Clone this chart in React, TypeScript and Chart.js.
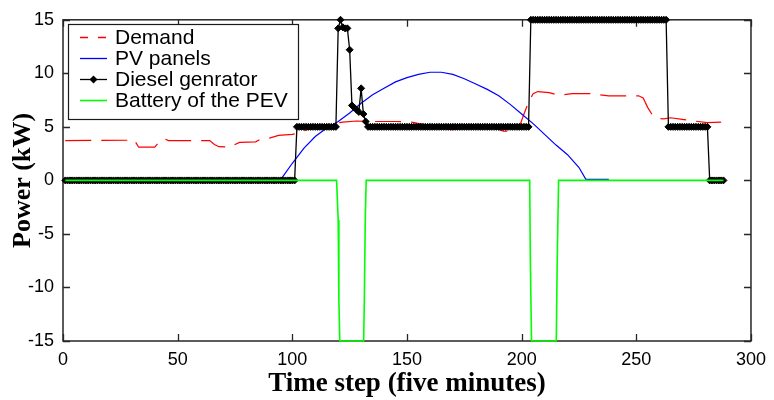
import React, { useEffect, useRef } from 'react';
import { Chart, registerables } from 'chart.js';

Chart.register(...registerables);

// ---- data ----
const xTicks = [0, 50, 100, 150, 200, 250, 300];
const yTicks = [-15, -10, -5, 0, 5, 10, 15];
const seriesLabels = ['Demand', 'PV panels', 'Diesel genrator', 'Battery of the PEV'];
const seriesColors = ['#ff0000', '#0000ff', '#000000', '#00ff00'];

const demandT = [1, 30, 31, 33, 40, 42, 44, 46, 64, 66, 68, 73, 75, 77, 84, 86, 90, 94, 100, 102,
  108, 112, 118, 122, 128, 135, 145, 152, 158, 165, 170, 176, 182, 188, 192, 197, 199, 201, 203, 205,
  207, 212, 216, 222, 230, 238, 251, 253, 255, 257, 259, 262, 265, 270, 275, 281, 287];
const demandKW = [3.72, 3.75, 3.8, 3.1, 3.1, 3.6, 3.9, 3.72, 3.72, 3.35, 3.15, 3.1, 3.35, 3.55, 3.6, 3.85, 3.95, 4.2, 4.3, 4.4,
  4.85, 5.1, 5.3, 5.45, 5.55, 5.5, 5.5, 5.45, 5.2, 4.8, 4.75, 5.0, 5.1, 4.9, 4.6, 4.6, 5.0, 6.2, 7.3, 8.1,
  8.3, 8.2, 7.95, 8.1, 8.1, 7.9, 7.9, 7.7, 6.8, 6.1, 5.8, 5.75, 5.85, 5.7, 5.55, 5.4, 5.45];

const pvT = [95, 96, 100, 105, 110, 115, 120, 125, 130, 135, 140, 145, 150, 155, 160, 165, 170, 175,
  180, 185, 190, 195, 200, 205, 210, 215, 220, 225, 228, 238];
const pvKW = [0.1, 0.4, 1.6, 3.0, 4.1, 4.9, 5.5, 6.3, 7.2, 8.0, 8.6, 9.2, 9.6, 9.9, 10.1, 10.1, 9.9, 9.5,
  9.0, 8.5, 7.9, 7.1, 6.2, 5.3, 4.3, 3.3, 2.4, 1.2, 0.1, 0.1];

// diesel generator output per time step, as runs: [first step, last step, kW]
const dieselRuns: [number, number, number][] = [
  [1, 101, 0], [102, 119, 5], [120, 120, 14.2], [121, 121, 15], [122, 122, 14.3], [123, 124, 14.2],
  [125, 125, 12.2], [126, 126, 7.0], [127, 127, 6.8], [128, 128, 6.6], [129, 129, 6.4], [130, 130, 8.6],
  [131, 131, 6.2], [132, 132, 5.5], [133, 203, 5], [204, 263, 15], [264, 281, 5], [282, 288, 0],
];

const batteryT = [1, 119.3, 120, 120.3, 120.7, 131.1, 131.4, 131.8, 132.2, 203.5, 203.8, 204.3, 215.1, 215.5, 216.1, 288];
const batteryKW = [0, 0, -3.7, -11.2, -15, -15, -11.2, -3.7, 0, 0, -7.6, -15, -15, -7.6, 0, 0];

const tickFont = { family: '"Liberation Sans", Arial, sans-serif', size: 18 };
const titleFontFamily = '"Liberation Serif", "Times New Roman", serif';

const framePlugin = {
  id: 'frame',
  beforeDatasetsDraw(chart: any) {
    const { ctx, chartArea: a, scales } = chart;
    ctx.save();
    ctx.strokeStyle = '#262626';
    ctx.lineWidth = 1.5;
    ctx.strokeRect(a.left, a.top, a.right - a.left, a.bottom - a.top);
    ctx.lineWidth = 1.3;
    ctx.beginPath();
    for (const v of xTicks) {
      const x = Math.round(scales.x.getPixelForValue(v)) + 0.5;
      ctx.moveTo(x, a.bottom); ctx.lineTo(x, a.bottom - 7);
      ctx.moveTo(x, a.top); ctx.lineTo(x, a.top + 7);
    }
    for (const v of yTicks) {
      const y = Math.round(scales.y.getPixelForValue(v)) + 0.5;
      ctx.moveTo(a.left, y); ctx.lineTo(a.left + 7, y);
      ctx.moveTo(a.right, y); ctx.lineTo(a.right - 7, y);
    }
    ctx.stroke();
    ctx.restore();
  },
};

const legendDash = [[8, 10], [], [], []];

const legendPlugin = {
  id: 'boxLegend',
  afterDatasetsDraw(chart: any) {
    const { ctx } = chart;
    const bx = 68.5, by = 24.5, bw = 230, bh = 95;
    ctx.save();
    ctx.fillStyle = '#ffffff';
    ctx.fillRect(bx, by, bw, bh);
    ctx.strokeStyle = '#1a1a1a';
    ctx.lineWidth = 1.2;
    ctx.strokeRect(bx, by, bw, bh);
    const rowY = [37.5, 58.5, 79.5, 100.5];
    const x0 = 80, x1 = 107;
    ctx.font = '21px "Liberation Sans", Arial, sans-serif';
    ctx.textBaseline = 'middle';
    ctx.textAlign = 'left';
    seriesLabels.forEach((label, i) => {
      const y = rowY[i];
      ctx.save();
      ctx.strokeStyle = seriesColors[i];
      ctx.lineWidth = i === 3 ? 1.6 : 1.3;
      ctx.setLineDash(legendDash[i]);
      ctx.beginPath();
      ctx.moveTo(x0, y);
      ctx.lineTo(x1, y);
      ctx.stroke();
      ctx.restore();
      if (i === 2) {
        ctx.save();
        ctx.fillStyle = '#000';
        ctx.beginPath();
        const r = 4, cx = (x0 + x1) / 2;
        ctx.moveTo(cx, y - r); ctx.lineTo(cx + r, y); ctx.lineTo(cx, y + r); ctx.lineTo(cx - r, y);
        ctx.closePath();
        ctx.fill();
        ctx.restore();
      }
      ctx.fillStyle = '#000';
      ctx.fillText(label, 115, y + 1);
    });
    ctx.restore();
  },
};

function toPoints(t: number[], v: number[]) {
  return t.map((x, i) => ({ x, y: v[i] }));
}

function expandRuns(runs: [number, number, number][]) {
  const pts: { x: number; y: number }[] = [];
  for (const [a, b, v] of runs) for (let s = a; s <= b; s++) pts.push({ x: s, y: v });
  return pts;
}

export default function App() {
  const ref = useRef<HTMLCanvasElement | null>(null);
  useEffect(() => {
    document.body.style.margin = '0';
    const canvas = ref.current;
    if (!canvas) return;
    const chart = new Chart(canvas, {
      type: 'line',
      data: {
        datasets: [
          {
            label: seriesLabels[0], data: toPoints(demandT, demandKW), borderColor: seriesColors[0],
            borderWidth: 1.2, borderDash: [26, 10], pointRadius: 0, order: 4, clip: false,
          },
          {
            label: seriesLabels[1], data: toPoints(pvT, pvKW), borderColor: seriesColors[1],
            borderWidth: 1.2, pointRadius: 0, order: 3, clip: false,
          },
          {
            label: seriesLabels[2], data: expandRuns(dieselRuns), borderColor: seriesColors[2],
            borderWidth: 1.3, pointRadius: 3.5, pointStyle: 'rectRot', pointBackgroundColor: '#000',
            pointBorderColor: '#000', pointBorderWidth: 1, order: 2, clip: false,
          },
          {
            label: seriesLabels[3], data: toPoints(batteryT, batteryKW), borderColor: seriesColors[3],
            borderWidth: 1.6, pointRadius: 0, order: 1, clip: false,
          },
        ] as any,
      },
      options: {
        animation: false,
        responsive: false,
        events: [],
        layout: { padding: { top: 19, right: 16, left: 0, bottom: 0 } },
        elements: { line: { tension: 0 } },
        plugins: { legend: { display: false }, tooltip: { enabled: false } },
        scales: {
          x: {
            type: 'linear', min: 0, max: 300,
            afterBuildTicks: (s: any) => { s.ticks = xTicks.map((value) => ({ value })); },
            grid: { display: false, drawTicks: false },
            border: { display: false },
            ticks: { font: tickFont, color: '#000', padding: 8, maxRotation: 0, autoSkip: false },
            title: {
              display: true, text: 'Time step (five minutes)', color: '#000',
              font: { family: titleFontFamily, size: 27, weight: 'bold', lineHeight: 1 },
              padding: { top: 0, bottom: 2 },
            },
            afterFit: (s: any) => { s.height = 59; },
          },
          y: {
            type: 'linear', min: -15, max: 15,
            afterBuildTicks: (s: any) => { s.ticks = yTicks.map((value) => ({ value })); },
            grid: { display: false, drawTicks: false },
            border: { display: false },
            ticks: { font: tickFont, color: '#000', padding: 9, autoSkip: false },
            title: {
              display: true, text: 'Power (kW)', color: '#000',
              font: { family: titleFontFamily, size: 26, weight: 'bold', lineHeight: 1 },
              padding: { top: 10, bottom: 0 },
            },
            afterFit: (s: any) => { s.width = 63; },
          },
        },
      } as any,
      plugins: [framePlugin, legendPlugin],
    });
    return () => chart.destroy();
  }, []);
  return (
    <div style={{ position: 'absolute', left: 0, top: 0, width: 774, height: 400, background: '#fff' }}>
      <canvas ref={ref} width={774} height={400} style={{ display: 'block' }} />
    </div>
  );
}
